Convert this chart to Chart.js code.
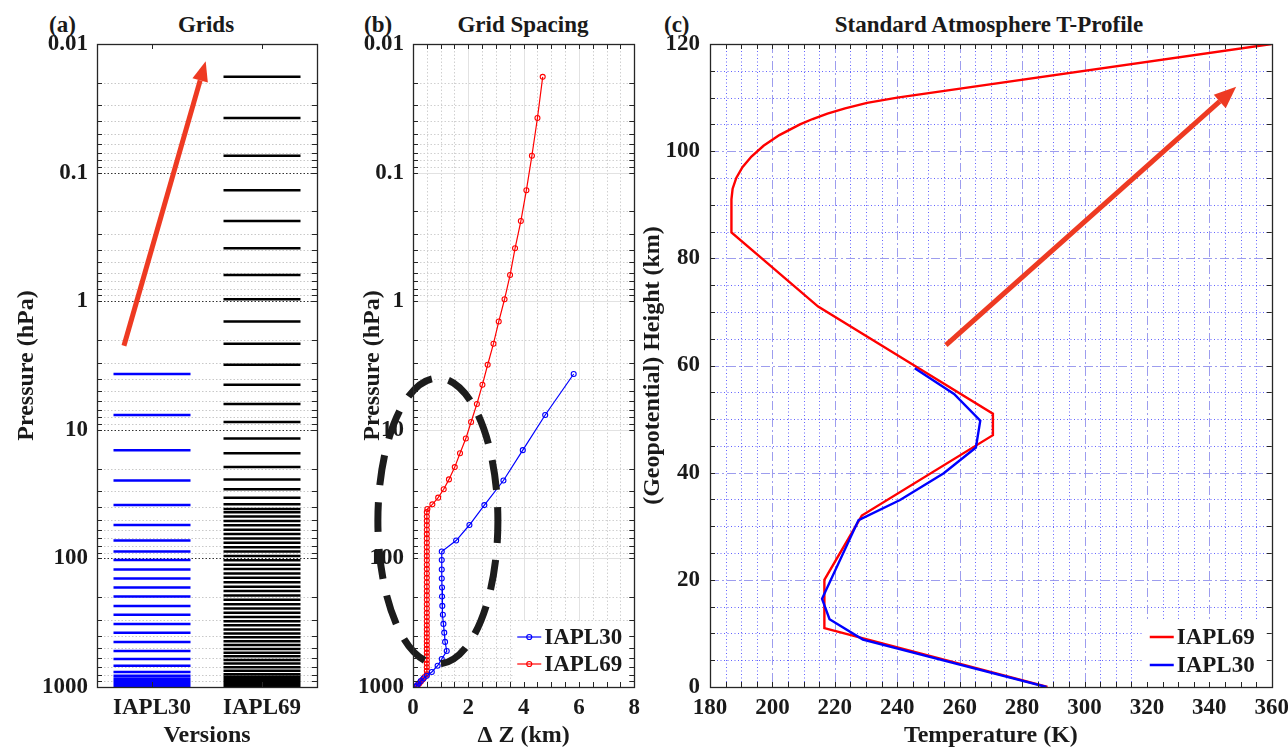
<!DOCTYPE html>
<html>
<head>
<meta charset="utf-8">
<script src="https://cdn.jsdelivr.net/npm/chart.js@4.4.1/dist/chart.umd.min.js"></script>
<style>
  body { margin: 0; background: #fff; width: 1288px; height: 750px; overflow: hidden; position: relative; }
  .panel { position: absolute; top: 0; height: 750px; }
  .lbl { position: absolute; top: 13px; font: bold 23px/23px "Liberation Serif", serif; color: #1a1a1a; white-space: nowrap; }
  .ttl { width: 400px; text-align: center; }
</style>
</head>
<body>
<div class="lbl" style="left:49px">(a)</div>
<div class="lbl ttl" style="left:6px">Grids</div>
<div class="lbl" style="left:364px">(b)</div>
<div class="lbl ttl" style="left:323px">Grid Spacing</div>
<div class="lbl" style="left:664px">(c)</div>
<div class="lbl ttl" style="left:789px">Standard Atmosphere T-Profile</div>

<div class="panel" style="left:0;width:335px"><canvas id="gridsChart"></canvas></div>
<div class="panel" style="left:335px;width:312px"><canvas id="spacingChart"></canvas></div>
<div class="panel" style="left:632px;width:664px"><canvas id="profileChart"></canvas></div>

<script>
"use strict";

// --- data ---
const versions = ["IAPL30", "IAPL69"];

// IAPL30 model levels (hPa) and layer thickness (km)
const iapl30Pressure = [3.68, 7.67, 14.4, 24.8, 38.5, 55.0, 72.6, 88.4, 102.9, 121.9,
    143.3, 168.5, 198, 234, 274, 323, 378, 446, 525, 606,
    683, 764, 817, 859, 898, 940, 973, 1000];
const iapl30Dz = [5.81, 4.78, 3.97, 3.27, 2.58, 2.04, 1.56, 1.04, 1.04, 1.04,
    1.04, 1.05, 1.05, 1.06, 1.08, 1.10, 1.13, 1.16, 1.22, 1.04,
    0.89, 0.68, 0.50, 0.38, 0.28, 0.20, 0.14, 0.10];

// IAPL69 model levels (hPa) and layer thickness (km)
const iapl69Pressure = [0.018, 0.0376, 0.0739, 0.137, 0.238, 0.388, 0.626, 0.966, 1.44, 2.14,
    3.12, 4.46, 6.30, 8.70, 11.7, 15.2, 19.5, 24.3, 29.0, 33.7,
    38.0, 41.3, 43.7, 47.3, 51.1, 55.3, 59.8, 64.7, 69.9, 75.6,
    81.8, 88.5, 95.6, 103.5, 111.9, 121.1, 131.0, 141.7, 153.2, 165.8,
    179.3, 194.0, 209.8, 227.0, 245.4, 265.0, 285.8, 308.0, 331.5, 356.5,
    383.0, 411.1, 440.8, 472.2, 505.3, 540.5, 577.5, 616.6, 657.8, 701.2,
    747.2, 795.0, 835, 875, 912, 942, 966, 985, 1000];
const iapl69Dz = [4.69, 4.50, 4.30, 4.10, 3.90, 3.69, 3.51, 3.31, 3.10, 2.91,
    2.70, 2.51, 2.31, 2.10, 1.91, 1.70, 1.51, 1.30, 1.11, 0.91,
    0.70, 0.52, 0.50, 0.50, 0.50, 0.50, 0.50, 0.50, 0.50, 0.50,
    0.50, 0.50, 0.50, 0.50, 0.50, 0.50, 0.50, 0.50, 0.50, 0.50,
    0.50, 0.50, 0.50, 0.50, 0.50, 0.50, 0.50, 0.50, 0.50, 0.50,
    0.50, 0.50, 0.50, 0.50, 0.50, 0.50, 0.50, 0.50, 0.50, 0.50,
    0.50, 0.50, 0.42, 0.35, 0.28, 0.22, 0.17, 0.13, 0.10];

// standard atmosphere temperature profiles (K vs km)
const iapl69Temp = [288.15, 216.65, 216.65, 228.65, 270.65, 270.65, 245.45, 214.65, 196.6, 186.87,
    186.87, 187.25, 188.42, 190.40, 193.28, 197.15, 202.23, 208.83, 212.89, 217.63,
    223.28, 230.33, 240.0, 360.0];
const iapl69Height = [0, 11, 20, 32, 47, 51, 60, 71, 80, 84.85,
    91, 93, 95, 97, 99, 101, 103, 105, 106, 107,
    108, 109, 110, 120];
const iapl30Temp = [287.8, 229.0, 218.3, 215.9, 227.6, 240.9, 254.9, 265.2, 266.6, 258.2, 245.6];
const iapl30Height = [0, 8.85, 12.65, 16.45, 31.15, 34.9, 39.9, 44.7, 49.7, 54.7, 59.5];

// axis ticks
const pressureTicks = [0.01, 0.1, 1, 10, 100, 1000];
const pressureTickLabels = ["0.01", "0.1", "1", "10", "100", "1000"];
const dzTicks = [0, 2, 4, 6, 8];
const tempTicks = [180, 200, 220, 240, 260, 280, 300, 320, 340, 360];
const heightTicks = [0, 20, 40, 60, 80, 100, 120];

// annotations (data coordinates)
const arrowGrids = { from: [0.745, 2.22], to: [1.488, 0.0136] };
const arrowProfile = { from: [255.6, 63.8], to: [348.6, 112.0] };
const ellipseDz = 0.9, ellipseHalfDz = 2.17, ellipseTopP = 3.96, ellipseBottomP = 662;


Chart.defaults.font.family = '"Liberation Serif", "Times New Roman", serif';
Chart.defaults.font.weight = 'bold';
Chart.defaults.font.size = 23;
Chart.defaults.color = '#1a1a1a';
Chart.defaults.animation = false;
Chart.defaults.plugins.legend.display = false;
Chart.defaults.plugins.tooltip.enabled = false;

const arrowColor = '#ee3a22';
const fontStr = 'bold 23px "Liberation Serif", serif';

//minor ticks of a log axis (2..9 in every decade)
function logMinor(decades) {
    let out = [];
    for (let i = 0; i < decades.length - 1; i++) {
        for (let k = 2; k <= 9; k++) out.push(decades[i] * k);
    }
    return out;
}
function steps(a, b, d) {
    let out = [];
    for (let v = a; v <= b + 1e-9; v += d) out.push(Math.round(v * 1000) / 1000);
    return out;
}
const pressureMinor = logMinor(pressureTicks);
const pressureAll = pressureTicks.concat(pressureMinor).sort((a, b) => a - b);

function pressureAxis(width, titlePad) {
    return {
        type: 'logarithmic', min: 0.01, max: 1000, reverse: true,
        grid: { display: false, drawTicks: false }, border: { display: false },
        afterBuildTicks: s => { s.ticks = pressureAll.map(v => ({ value: v })); },
        afterFit: s => { s.width = width; },
        ticks: {
            padding: 9, autoSkip: false,
            callback: v => {
                const i = pressureTicks.findIndex(t => Math.abs(t - v) < t * 1e-6);
                return i >= 0 ? pressureTickLabels[i] : '';
            }
        },
        title: { display: true, text: 'Pressure (hPa)', font: { size: 24 }, padding: { top: titlePad, bottom: 0 } }
    };
}

function bottomAxis(min, max, tickVals, title, labels) {
    return {
        type: 'linear', min: min, max: max,
        grid: { display: false, drawTicks: false }, border: { display: false },
        afterBuildTicks: s => { s.ticks = tickVals.map(v => ({ value: v })); },
        afterFit: s => { s.height = 63; },
        ticks: { padding: 7, maxRotation: 0, autoSkip: false,
            callback: v => labels ? labels[Math.round(v) - 1] : String(v) },
        title: { display: true, text: title, font: { size: 24 }, padding: { top: 0, bottom: 0 } }
    };
}

function drawArrow(ctx, x0, y0, x1, y1, headLen, headW) {
    const ang = Math.atan2(y1 - y0, x1 - x0);
    const bx = x1 - headLen * Math.cos(ang), by = y1 - headLen * Math.sin(ang);
    ctx.strokeStyle = arrowColor;
    ctx.lineWidth = 5;
    ctx.setLineDash([]);
    ctx.beginPath(); ctx.moveTo(x0, y0); ctx.lineTo(bx, by); ctx.stroke();
    ctx.fillStyle = arrowColor;
    ctx.beginPath();
    ctx.moveTo(x1, y1);
    ctx.lineTo(bx + headW / 2 * Math.sin(ang), by - headW / 2 * Math.cos(ang));
    ctx.lineTo(bx - headW / 2 * Math.sin(ang), by + headW / 2 * Math.cos(ang));
    ctx.closePath();
    ctx.fill();
}

function arrowOn(chart, arrow, headLen, headW) {
    const { x, y } = chart.scales;
    drawArrow(chart.ctx,
        x.getPixelForValue(arrow.from[0]), y.getPixelForValue(arrow.from[1]),
        x.getPixelForValue(arrow.to[0]), y.getPixelForValue(arrow.to[1]), headLen, headW);
}

//legend inside the lower right corner, white box without border
function drawLegend(chart, order, o) {
    const ctx = chart.ctx, a = chart.chartArea;
    ctx.fillStyle = '#fff';
    ctx.fillRect(a.right - o.boxW - 2, a.bottom - o.boxH - 4, o.boxW, o.boxH);
    ctx.font = fontStr;
    ctx.textBaseline = 'middle';
    ctx.textAlign = 'left';
    order.forEach((di, k) => {
        const ds = chart.data.datasets[di];
        const yy = a.bottom - o.rows[k];
        const x0 = a.right - o.fromRight;
        ctx.strokeStyle = ds.borderColor;
        ctx.lineWidth = o.lw;
        ctx.setLineDash([]);
        ctx.beginPath(); ctx.moveTo(x0, yy); ctx.lineTo(x0 + o.len, yy); ctx.stroke();
        if (o.marker) {
            ctx.lineWidth = 1.2;
            ctx.beginPath(); ctx.arc(x0 + o.len / 2, yy, 2.5, 0, 2 * Math.PI); ctx.stroke();
        }
        ctx.fillStyle = '#1a1a1a';
        ctx.fillText(ds.label, x0 + o.len + 3, yy + 1);
    });
}

//grid lines, inward ticks and box like the matlab axes
function boxPlugin(cfg) {
    return {
        id: 'box',
        beforeDatasetsDraw(chart) {
            const { ctx, chartArea: a } = chart;
            ctx.save();
            ctx.beginPath(); ctx.rect(a.left, a.top, a.width, a.height); ctx.clip();
            for (const g of cfg.grid) {
                const sc = chart.scales[g.axis];
                ctx.strokeStyle = g.color;
                ctx.lineWidth = 1;
                ctx.setLineDash(g.dash || []);
                for (const v of g.values) {
                    const p = Math.round(sc.getPixelForValue(v)) + 0.5;
                    ctx.beginPath();
                    if (g.axis === 'x') { ctx.moveTo(p, a.top); ctx.lineTo(p, a.bottom); }
                    else { ctx.moveTo(a.left, p); ctx.lineTo(a.right, p); }
                    ctx.stroke();
                }
            }
            ctx.restore();
        },
        afterDatasetsDraw(chart) {
            const { ctx, chartArea: a, scales } = chart;
            if (cfg.extra) { ctx.save(); cfg.extra(chart); ctx.restore(); }
            ctx.save();
            ctx.strokeStyle = '#262626';
            ctx.lineWidth = 1;
            ctx.setLineDash([]);
            ctx.beginPath();
            for (const v of cfg.xTicks) {
                const p = Math.round(scales.x.getPixelForValue(v)) + 0.5;
                ctx.moveTo(p, a.top); ctx.lineTo(p, a.top + 5);
                ctx.moveTo(p, a.bottom); ctx.lineTo(p, a.bottom - 5);
            }
            for (const v of cfg.yTicks) {
                const p = Math.round(scales.y.getPixelForValue(v)) + 0.5;
                ctx.moveTo(a.left, p); ctx.lineTo(a.left + 5, p);
                ctx.moveTo(a.right, p); ctx.lineTo(a.right - 5, p);
            }
            ctx.stroke();
            ctx.lineWidth = 1.3;
            ctx.strokeRect(Math.round(a.left) + 0.5, Math.round(a.top) + 0.5, Math.round(a.width), Math.round(a.height));
            ctx.restore();
        }
    };
}

//each level as a short horizontal segment centred on its version
function levelSegments(levels, pos) {
    const out = [];
    levels.forEach(p => {
        out.push({ x: pos - 0.35, y: p }, { x: pos + 0.35, y: p }, { x: pos, y: null });
    });
    return out;
}

function pairs(xs, ys) {
    return xs.map((v, i) => ({ x: v, y: ys[i] }));
}


// (a) Grids
new Chart(document.getElementById('gridsChart'), {
    type: 'scatter',
    data: {
        datasets: [
            { label: versions[0], data: levelSegments(iapl30Pressure, 1), showLine: true, pointRadius: 0,
              borderColor: '#0000ff', borderWidth: 2.5 },
            { label: versions[1], data: levelSegments(iapl69Pressure, 2), showLine: true, pointRadius: 0,
              borderColor: '#000000', borderWidth: 2.5 }
        ]
    },
    options: {
        responsive: true, maintainAspectRatio: false,
        layout: { padding: { left: 0, right: 18, top: 44, bottom: 0 } },
        scales: {
            x: bottomAxis(0.5, 2.5, [1, 2], 'Versions', versions),
            y: pressureAxis(97, 12)
        }
    },
    plugins: [boxPlugin({
        grid: [
            { axis: 'y', values: pressureMinor, color: '#c8c8c8', dash: [1.5, 2] },
            { axis: 'y', values: [0.1, 1, 10, 100], color: '#333333', dash: [1.5, 2] }
        ],
        xTicks: [1, 2],
        yTicks: pressureAll,
        extra: chart => arrowOn(chart, arrowGrids, 20, 16)
    })]
});


// (b) Grid spacing
new Chart(document.getElementById('spacingChart'), {
    type: 'scatter',
    data: {
        datasets: [
            { label: versions[0], data: pairs(iapl30Dz, iapl30Pressure), showLine: true,
              borderColor: '#0000ff', borderWidth: 1.2, pointRadius: 2.5, pointBorderWidth: 1.1,
              pointBackgroundColor: 'rgba(255,255,255,0)', pointBorderColor: '#0000ff' },
            { label: versions[1], data: pairs(iapl69Dz, iapl69Pressure), showLine: true,
              borderColor: '#ff0000', borderWidth: 1.2, pointRadius: 2.5, pointBorderWidth: 1.1,
              pointBackgroundColor: 'rgba(255,255,255,0)', pointBorderColor: '#ff0000' }
        ]
    },
    options: {
        responsive: true, maintainAspectRatio: false,
        layout: { padding: { left: 0, right: 0, top: 44, bottom: 0 } },
        scales: {
            x: bottomAxis(0, 8, dzTicks, 'Δ Z (km)'),
            y: pressureAxis(78, 23)
        }
    },
    plugins: [boxPlugin({
        grid: [
            { axis: 'x', values: steps(0.5, 7.5, 0.5).filter(v => v % 2 !== 0), color: '#d0d0d0', dash: [1.5, 2] },
            { axis: 'y', values: pressureMinor, color: '#d0d0d0', dash: [1.5, 2] },
            { axis: 'x', values: [2, 4, 6], color: '#e2e2e2' },
            { axis: 'y', values: [0.1, 1, 10, 100], color: '#e2e2e2' }
        ],
        xTicks: steps(0, 8, 0.5),
        yTicks: pressureAll,
        extra: chart => {
            const { ctx } = chart;
            const { x, y } = chart.scales;
            const cx = x.getPixelForValue(ellipseDz);
            const rx = x.getPixelForValue(ellipseDz + ellipseHalfDz) - cx;
            const yt = y.getPixelForValue(ellipseTopP), yb = y.getPixelForValue(ellipseBottomP);
            ctx.strokeStyle = '#1c1c1c';
            ctx.lineWidth = 7;
            ctx.setLineDash([30, 17]);
            ctx.lineDashOffset = 8;
            ctx.beginPath();
            ctx.ellipse(cx, (yt + yb) / 2, rx, (yb - yt) / 2, 0, 0, 2 * Math.PI);
            ctx.stroke();
            drawLegend(chart, [0, 1], { boxW: 118, boxH: 62, fromRight: 117, len: 24, lw: 1.2, marker: true, rows: [50, 23] });
        }
    })]
});


// (c) Standard atmosphere temperature profile
new Chart(document.getElementById('profileChart'), {
    type: 'scatter',
    data: {
        datasets: [
            { label: versions[1], data: pairs(iapl69Temp, iapl69Height), showLine: true, pointRadius: 0,
              borderColor: '#ff0000', borderWidth: 2.4 },
            { label: versions[0], data: pairs(iapl30Temp, iapl30Height), showLine: true, pointRadius: 0,
              borderColor: '#0000ff', borderWidth: 2.4, order: -1 }
        ]
    },
    options: {
        responsive: true, maintainAspectRatio: false,
        layout: { padding: { left: 0, right: 0, top: 44, bottom: 0 } },
        scales: {
            x: bottomAxis(180, 360, tempTicks, 'Temperature (K)'),
            y: {
                type: 'linear', min: 0, max: 120,
                grid: { display: false, drawTicks: false }, border: { display: false },
                afterBuildTicks: s => { s.ticks = heightTicks.map(v => ({ value: v })); },
                afterFit: s => { s.width = 78; },
                ticks: { padding: 10, autoSkip: false },
                title: { display: true, text: '(Geopotential) Height (km)', font: { size: 24 }, padding: { top: 6, bottom: 0 } }
            }
        }
    },
    plugins: [boxPlugin({
        grid: [
            { axis: 'x', values: steps(185, 355, 5).filter(v => v % 20 !== 0), color: 'rgba(60,60,255,0.8)', dash: [1, 2.5] },
            { axis: 'y', values: steps(5, 115, 5).filter(v => v % 20 !== 0), color: 'rgba(60,60,255,0.8)', dash: [1, 2.5] },
            { axis: 'x', values: [200, 220, 240, 260, 280, 300, 320, 340], color: 'rgba(140,140,235,0.85)', dash: [9, 3, 2, 3] },
            { axis: 'y', values: [20, 40, 60, 80, 100], color: 'rgba(140,140,235,0.85)', dash: [9, 3, 2, 3] }
        ],
        xTicks: steps(180, 360, 5),
        yTicks: steps(0, 120, 5),
        extra: chart => {
            drawLegend(chart, [0, 1], { boxW: 127, boxH: 64, fromRight: 122, len: 24, lw: 2.5, marker: false, rows: [50, 22] });
            arrowOn(chart, arrowProfile, 22, 18);
        }
    })]
});
</script>
</body>
</html>
